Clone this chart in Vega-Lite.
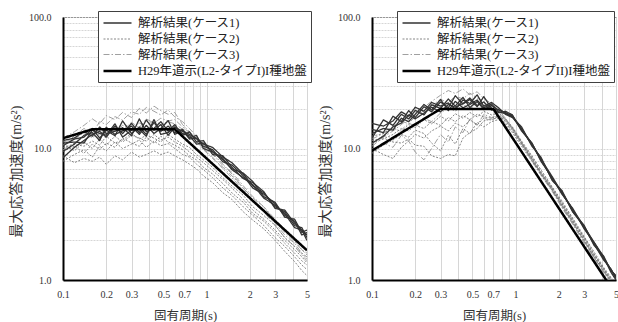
{
"$schema":"https://vega.github.io/schema/vega-lite/v6.json",
"padding":{"left":8,"top":10,"right":3,"bottom":2},
"spacing":65,
"bounds":"flush",
"config":{
 "font":"Liberation Serif, Noto Sans CJK JP",
 "view":{"stroke":"#595959","strokeWidth":1},
 "axis":{"labelFont":"Liberation Serif, Noto Sans CJK JP","titleFont":"Liberation Serif, Noto Sans CJK JP","labelFontSize":10,"labelColor":"#333","titleFontSize":13,"titleFontWeight":"normal","titleColor":"#333","ticks":false,"domainColor":"#000","domainWidth":2,"gridColor":"#d6d6d6","gridWidth":1,"labelOverlap":false,"labelFlush":false},
 "axisY":{"gridDash":[2,1]},
 "legend":{"fillColor":"#ffffff","strokeColor":"#404040","padding":4,"labelFont":"Liberation Serif, Noto Sans CJK JP","labelFontSize":12.5,"labelColor":"#222","symbolType":"M-1,0H3","symbolSize":196,"rowPadding":1.5,"labelOffset":19,"labelLimit":400}
},
"resolve":{"scale":{"color":"independent","strokeDash":"independent","strokeWidth":"independent"},"legend":{"color":"independent","strokeDash":"independent","strokeWidth":"independent"}},
"datasets":{
"L":[
{"c":3,"r":1,"T":0.1,"S":10.5},{"c":3,"r":1,"T":0.12,"S":12.5},{"c":3,"r":1,"T":0.14,"S":14.2},{"c":3,"r":1,"T":0.16,"S":13.0},{"c":3,"r":1,"T":0.18,"S":16.0},{"c":3,"r":1,"T":0.2,"S":15.2},{"c":3,"r":1,"T":0.23,"S":17.5},{"c":3,"r":1,"T":0.26,"S":16.4},{"c":3,"r":1,"T":0.3,"S":19.0},{"c":3,"r":1,"T":0.34,"S":18.2},{"c":3,"r":1,"T":0.38,"S":20.5},{"c":3,"r":1,"T":0.43,"S":19.2},{"c":3,"r":1,"T":0.48,"S":18.0},{"c":3,"r":1,"T":0.54,"S":19.6},{"c":3,"r":1,"T":0.6,"S":17.4},{"c":3,"r":1,"T":0.68,"S":16.0},{"c":3,"r":1,"T":0.76,"S":14.2},{"c":3,"r":1,"T":0.85,"S":12.4},{"c":3,"r":1,"T":0.95,"S":10.8},{"c":3,"r":1,"T":1.1,"S":9.2},{"c":3,"r":1,"T":1.3,"S":7.6},{"c":3,"r":1,"T":1.5,"S":6.4},{"c":3,"r":1,"T":1.8,"S":5.0},{"c":3,"r":1,"T":2.1,"S":4.0},{"c":3,"r":1,"T":2.5,"S":3.4},{"c":3,"r":1,"T":3,"S":2.7},{"c":3,"r":1,"T":3.5,"S":2.2},{"c":3,"r":1,"T":4.1,"S":1.9},{"c":3,"r":1,"T":4.6,"S":1.6},{"c":3,"r":1,"T":5,"S":1.5},
{"c":3,"r":2,"T":0.1,"S":12.0},{"c":3,"r":2,"T":0.12,"S":13.4},{"c":3,"r":2,"T":0.14,"S":15.0},{"c":3,"r":2,"T":0.16,"S":16.8},{"c":3,"r":2,"T":0.18,"S":15.4},{"c":3,"r":2,"T":0.2,"S":17.8},{"c":3,"r":2,"T":0.23,"S":16.6},{"c":3,"r":2,"T":0.26,"S":18.8},{"c":3,"r":2,"T":0.3,"S":17.2},{"c":3,"r":2,"T":0.34,"S":20.2},{"c":3,"r":2,"T":0.38,"S":18.6},{"c":3,"r":2,"T":0.43,"S":21.0},{"c":3,"r":2,"T":0.48,"S":19.4},{"c":3,"r":2,"T":0.54,"S":18.2},{"c":3,"r":2,"T":0.6,"S":18.8},{"c":3,"r":2,"T":0.68,"S":15.2},{"c":3,"r":2,"T":0.76,"S":13.4},{"c":3,"r":2,"T":0.85,"S":11.8},{"c":3,"r":2,"T":0.95,"S":10.0},{"c":3,"r":2,"T":1.1,"S":8.6},{"c":3,"r":2,"T":1.3,"S":7.0},{"c":3,"r":2,"T":1.5,"S":6.0},{"c":3,"r":2,"T":1.8,"S":4.8},{"c":3,"r":2,"T":2.1,"S":3.9},{"c":3,"r":2,"T":2.5,"S":3.3},{"c":3,"r":2,"T":3,"S":2.6},{"c":3,"r":2,"T":3.5,"S":2.1},{"c":3,"r":2,"T":4.1,"S":1.8},{"c":3,"r":2,"T":4.6,"S":1.55},{"c":3,"r":2,"T":5,"S":1.4},
{"c":3,"r":3,"T":0.1,"S":9.8},{"c":3,"r":3,"T":0.12,"S":11.0},{"c":3,"r":3,"T":0.14,"S":12.2},{"c":3,"r":3,"T":0.16,"S":13.8},{"c":3,"r":3,"T":0.18,"S":12.6},{"c":3,"r":3,"T":0.2,"S":14.4},{"c":3,"r":3,"T":0.23,"S":13.4},{"c":3,"r":3,"T":0.26,"S":15.0},{"c":3,"r":3,"T":0.3,"S":14.2},{"c":3,"r":3,"T":0.34,"S":15.6},{"c":3,"r":3,"T":0.38,"S":14.8},{"c":3,"r":3,"T":0.43,"S":16.4},{"c":3,"r":3,"T":0.48,"S":15.2},{"c":3,"r":3,"T":0.54,"S":16.0},{"c":3,"r":3,"T":0.6,"S":15.4},{"c":3,"r":3,"T":0.68,"S":14.0},{"c":3,"r":3,"T":0.76,"S":12.8},{"c":3,"r":3,"T":0.85,"S":11.4},{"c":3,"r":3,"T":0.95,"S":9.8},{"c":3,"r":3,"T":1.1,"S":8.4},{"c":3,"r":3,"T":1.3,"S":7.2},{"c":3,"r":3,"T":1.5,"S":6.2},{"c":3,"r":3,"T":1.8,"S":5.0},{"c":3,"r":3,"T":2.1,"S":4.2},{"c":3,"r":3,"T":2.5,"S":3.6},{"c":3,"r":3,"T":3,"S":2.9},{"c":3,"r":3,"T":3.5,"S":2.4},{"c":3,"r":3,"T":4.1,"S":2.0},{"c":3,"r":3,"T":4.6,"S":1.7},{"c":3,"r":3,"T":5,"S":1.55},
{"c":3,"r":4,"T":0.1,"S":11.2},{"c":3,"r":4,"T":0.12,"S":11.8},{"c":3,"r":4,"T":0.14,"S":13.2},{"c":3,"r":4,"T":0.16,"S":12.0},{"c":3,"r":4,"T":0.18,"S":13.6},{"c":3,"r":4,"T":0.2,"S":12.8},{"c":3,"r":4,"T":0.23,"S":14.6},{"c":3,"r":4,"T":0.26,"S":13.8},{"c":3,"r":4,"T":0.3,"S":15.8},{"c":3,"r":4,"T":0.34,"S":14.4},{"c":3,"r":4,"T":0.38,"S":16.8},{"c":3,"r":4,"T":0.43,"S":15.6},{"c":3,"r":4,"T":0.48,"S":17.0},{"c":3,"r":4,"T":0.54,"S":16.2},{"c":3,"r":4,"T":0.6,"S":16.6},{"c":3,"r":4,"T":0.68,"S":14.6},{"c":3,"r":4,"T":0.76,"S":13.2},{"c":3,"r":4,"T":0.85,"S":12.0},{"c":3,"r":4,"T":0.95,"S":10.4},{"c":3,"r":4,"T":1.1,"S":9.0},{"c":3,"r":4,"T":1.3,"S":7.4},{"c":3,"r":4,"T":1.5,"S":6.6},{"c":3,"r":4,"T":1.8,"S":5.2},{"c":3,"r":4,"T":2.1,"S":4.3},{"c":3,"r":4,"T":2.5,"S":3.6},{"c":3,"r":4,"T":3,"S":2.8},{"c":3,"r":4,"T":3.5,"S":2.3},{"c":3,"r":4,"T":4.1,"S":1.95},{"c":3,"r":4,"T":4.6,"S":1.7},{"c":3,"r":4,"T":5,"S":1.6},
{"c":2,"r":1,"T":0.1,"S":8.0},{"c":2,"r":1,"T":0.12,"S":9.0},{"c":2,"r":1,"T":0.14,"S":9.8},{"c":2,"r":1,"T":0.16,"S":8.6},{"c":2,"r":1,"T":0.18,"S":10.4},{"c":2,"r":1,"T":0.2,"S":9.6},{"c":2,"r":1,"T":0.23,"S":11.2},{"c":2,"r":1,"T":0.26,"S":10.0},{"c":2,"r":1,"T":0.3,"S":10.8},{"c":2,"r":1,"T":0.34,"S":11.6},{"c":2,"r":1,"T":0.38,"S":10.2},{"c":2,"r":1,"T":0.43,"S":11.4},{"c":2,"r":1,"T":0.48,"S":10.5},{"c":2,"r":1,"T":0.54,"S":10.9},{"c":2,"r":1,"T":0.6,"S":10.0},{"c":2,"r":1,"T":0.68,"S":9.0},{"c":2,"r":1,"T":0.76,"S":8.6},{"c":2,"r":1,"T":0.85,"S":7.6},{"c":2,"r":1,"T":0.95,"S":6.9},{"c":2,"r":1,"T":1.1,"S":6.0},{"c":2,"r":1,"T":1.3,"S":5.0},{"c":2,"r":1,"T":1.5,"S":4.4},{"c":2,"r":1,"T":1.8,"S":3.6},{"c":2,"r":1,"T":2.1,"S":3.1},{"c":2,"r":1,"T":2.5,"S":2.6},{"c":2,"r":1,"T":3,"S":2.1},{"c":2,"r":1,"T":3.5,"S":1.8},{"c":2,"r":1,"T":4.1,"S":1.5},{"c":2,"r":1,"T":4.6,"S":1.3},{"c":2,"r":1,"T":5,"S":1.2},
{"c":2,"r":2,"T":0.1,"S":9.5},{"c":2,"r":2,"T":0.12,"S":10.4},{"c":2,"r":2,"T":0.14,"S":9.2},{"c":2,"r":2,"T":0.16,"S":10.8},{"c":2,"r":2,"T":0.18,"S":9.8},{"c":2,"r":2,"T":0.2,"S":11.0},{"c":2,"r":2,"T":0.23,"S":10.2},{"c":2,"r":2,"T":0.26,"S":12.0},{"c":2,"r":2,"T":0.3,"S":11.0},{"c":2,"r":2,"T":0.34,"S":10.4},{"c":2,"r":2,"T":0.38,"S":12.2},{"c":2,"r":2,"T":0.43,"S":11.0},{"c":2,"r":2,"T":0.48,"S":12.4},{"c":2,"r":2,"T":0.54,"S":11.2},{"c":2,"r":2,"T":0.6,"S":10.6},{"c":2,"r":2,"T":0.68,"S":9.8},{"c":2,"r":2,"T":0.76,"S":8.8},{"c":2,"r":2,"T":0.85,"S":8.2},{"c":2,"r":2,"T":0.95,"S":7.2},{"c":2,"r":2,"T":1.1,"S":6.4},{"c":2,"r":2,"T":1.3,"S":5.4},{"c":2,"r":2,"T":1.5,"S":4.6},{"c":2,"r":2,"T":1.8,"S":3.9},{"c":2,"r":2,"T":2.1,"S":3.2},{"c":2,"r":2,"T":2.5,"S":2.8},{"c":2,"r":2,"T":3,"S":2.3},{"c":2,"r":2,"T":3.5,"S":1.9},{"c":2,"r":2,"T":4.1,"S":1.6},{"c":2,"r":2,"T":4.6,"S":1.4},{"c":2,"r":2,"T":5,"S":1.3},
{"c":2,"r":3,"T":0.1,"S":10.8},{"c":2,"r":3,"T":0.12,"S":9.6},{"c":2,"r":3,"T":0.14,"S":11.2},{"c":2,"r":3,"T":0.16,"S":10.0},{"c":2,"r":3,"T":0.18,"S":11.8},{"c":2,"r":3,"T":0.2,"S":10.6},{"c":2,"r":3,"T":0.23,"S":12.4},{"c":2,"r":3,"T":0.26,"S":11.2},{"c":2,"r":3,"T":0.3,"S":12.6},{"c":2,"r":3,"T":0.34,"S":12.0},{"c":2,"r":3,"T":0.38,"S":11.4},{"c":2,"r":3,"T":0.43,"S":12.8},{"c":2,"r":3,"T":0.48,"S":11.6},{"c":2,"r":3,"T":0.54,"S":12.2},{"c":2,"r":3,"T":0.6,"S":11.2},{"c":2,"r":3,"T":0.68,"S":10.4},{"c":2,"r":3,"T":0.76,"S":9.4},{"c":2,"r":3,"T":0.85,"S":8.6},{"c":2,"r":3,"T":0.95,"S":7.8},{"c":2,"r":3,"T":1.1,"S":6.8},{"c":2,"r":3,"T":1.3,"S":5.8},{"c":2,"r":3,"T":1.5,"S":5.0},{"c":2,"r":3,"T":1.8,"S":4.1},{"c":2,"r":3,"T":2.1,"S":3.4},{"c":2,"r":3,"T":2.5,"S":2.9},{"c":2,"r":3,"T":3,"S":2.4},{"c":2,"r":3,"T":3.5,"S":2.0},{"c":2,"r":3,"T":4.1,"S":1.7},{"c":2,"r":3,"T":4.6,"S":1.5},{"c":2,"r":3,"T":5,"S":1.35},
{"c":2,"r":4,"T":0.1,"S":8.8},{"c":2,"r":4,"T":0.12,"S":7.8},{"c":2,"r":4,"T":0.14,"S":8.4},{"c":2,"r":4,"T":0.16,"S":8.0},{"c":2,"r":4,"T":0.18,"S":8.6},{"c":2,"r":4,"T":0.2,"S":7.6},{"c":2,"r":4,"T":0.23,"S":8.8},{"c":2,"r":4,"T":0.26,"S":8.2},{"c":2,"r":4,"T":0.3,"S":9.4},{"c":2,"r":4,"T":0.34,"S":8.6},{"c":2,"r":4,"T":0.38,"S":9.0},{"c":2,"r":4,"T":0.43,"S":9.6},{"c":2,"r":4,"T":0.48,"S":9.0},{"c":2,"r":4,"T":0.54,"S":9.4},{"c":2,"r":4,"T":0.6,"S":8.8},{"c":2,"r":4,"T":0.68,"S":8.2},{"c":2,"r":4,"T":0.76,"S":7.6},{"c":2,"r":4,"T":0.85,"S":7.0},{"c":2,"r":4,"T":0.95,"S":6.2},{"c":2,"r":4,"T":1.1,"S":5.5},{"c":2,"r":4,"T":1.3,"S":4.6},{"c":2,"r":4,"T":1.5,"S":4.1},{"c":2,"r":4,"T":1.8,"S":3.3},{"c":2,"r":4,"T":2.1,"S":2.85},{"c":2,"r":4,"T":2.5,"S":2.45},{"c":2,"r":4,"T":3,"S":2.0},{"c":2,"r":4,"T":3.5,"S":1.65},{"c":2,"r":4,"T":4.1,"S":1.38},{"c":2,"r":4,"T":4.6,"S":1.18},{"c":2,"r":4,"T":5,"S":1.08},
{"c":2,"r":5,"T":0.1,"S":10.2},{"c":2,"r":5,"T":0.12,"S":10.8},{"c":2,"r":5,"T":0.14,"S":10.4},{"c":2,"r":5,"T":0.16,"S":11.4},{"c":2,"r":5,"T":0.18,"S":10.6},{"c":2,"r":5,"T":0.2,"S":12.4},{"c":2,"r":5,"T":0.23,"S":11.0},{"c":2,"r":5,"T":0.26,"S":11.6},{"c":2,"r":5,"T":0.3,"S":13.0},{"c":2,"r":5,"T":0.34,"S":11.8},{"c":2,"r":5,"T":0.38,"S":12.6},{"c":2,"r":5,"T":0.43,"S":12.0},{"c":2,"r":5,"T":0.48,"S":11.2},{"c":2,"r":5,"T":0.54,"S":12.8},{"c":2,"r":5,"T":0.6,"S":11.8},{"c":2,"r":5,"T":0.68,"S":10.8},{"c":2,"r":5,"T":0.76,"S":10.2},{"c":2,"r":5,"T":0.85,"S":9.0},{"c":2,"r":5,"T":0.95,"S":8.2},{"c":2,"r":5,"T":1.1,"S":7.2},{"c":2,"r":5,"T":1.3,"S":6.0},{"c":2,"r":5,"T":1.5,"S":5.2},{"c":2,"r":5,"T":1.8,"S":4.4},{"c":2,"r":5,"T":2.1,"S":3.6},{"c":2,"r":5,"T":2.5,"S":3.1},{"c":2,"r":5,"T":3,"S":2.6},{"c":2,"r":5,"T":3.5,"S":2.1},{"c":2,"r":5,"T":4.1,"S":1.8},{"c":2,"r":5,"T":4.6,"S":1.6},{"c":2,"r":5,"T":5,"S":1.45},
{"c":1,"r":1,"T":0.1,"S":8.5},{"c":1,"r":1,"T":0.12,"S":10.2},{"c":1,"r":1,"T":0.14,"S":11.5},{"c":1,"r":1,"T":0.16,"S":12.8},{"c":1,"r":1,"T":0.18,"S":13.5},{"c":1,"r":1,"T":0.2,"S":12.2},{"c":1,"r":1,"T":0.23,"S":14.8},{"c":1,"r":1,"T":0.26,"S":13.0},{"c":1,"r":1,"T":0.3,"S":15.5},{"c":1,"r":1,"T":0.34,"S":13.2},{"c":1,"r":1,"T":0.38,"S":16.5},{"c":1,"r":1,"T":0.43,"S":13.8},{"c":1,"r":1,"T":0.48,"S":15.2},{"c":1,"r":1,"T":0.54,"S":12.6},{"c":1,"r":1,"T":0.6,"S":14.5},{"c":1,"r":1,"T":0.68,"S":13.5},{"c":1,"r":1,"T":0.76,"S":12.8},{"c":1,"r":1,"T":0.85,"S":11.9},{"c":1,"r":1,"T":0.95,"S":10.8},{"c":1,"r":1,"T":1.1,"S":10.2},{"c":1,"r":1,"T":1.3,"S":8.6},{"c":1,"r":1,"T":1.5,"S":7.8},{"c":1,"r":1,"T":1.8,"S":6.4},{"c":1,"r":1,"T":2.1,"S":5.2},{"c":1,"r":1,"T":2.5,"S":4.6},{"c":1,"r":1,"T":3,"S":3.6},{"c":1,"r":1,"T":3.5,"S":3.3},{"c":1,"r":1,"T":4.1,"S":2.6},{"c":1,"r":1,"T":4.6,"S":2.5},{"c":1,"r":1,"T":5,"S":2.1},
{"c":1,"r":2,"T":0.1,"S":10.5},{"c":1,"r":2,"T":0.12,"S":11.8},{"c":1,"r":2,"T":0.14,"S":12.2},{"c":1,"r":2,"T":0.16,"S":14.2},{"c":1,"r":2,"T":0.18,"S":12.0},{"c":1,"r":2,"T":0.2,"S":13.8},{"c":1,"r":2,"T":0.23,"S":12.5},{"c":1,"r":2,"T":0.26,"S":16.2},{"c":1,"r":2,"T":0.3,"S":13.0},{"c":1,"r":2,"T":0.34,"S":14.6},{"c":1,"r":2,"T":0.38,"S":12.8},{"c":1,"r":2,"T":0.43,"S":15.8},{"c":1,"r":2,"T":0.48,"S":13.5},{"c":1,"r":2,"T":0.54,"S":14.8},{"c":1,"r":2,"T":0.6,"S":13.2},{"c":1,"r":2,"T":0.68,"S":14.0},{"c":1,"r":2,"T":0.76,"S":12.0},{"c":1,"r":2,"T":0.85,"S":12.6},{"c":1,"r":2,"T":0.95,"S":10.0},{"c":1,"r":2,"T":1.1,"S":9.4},{"c":1,"r":2,"T":1.3,"S":8.2},{"c":1,"r":2,"T":1.5,"S":7.0},{"c":1,"r":2,"T":1.8,"S":6.5},{"c":1,"r":2,"T":2.1,"S":5.6},{"c":1,"r":2,"T":2.5,"S":4.3},{"c":1,"r":2,"T":3,"S":3.9},{"c":1,"r":2,"T":3.5,"S":3.0},{"c":1,"r":2,"T":4.1,"S":2.9},{"c":1,"r":2,"T":4.6,"S":2.3},{"c":1,"r":2,"T":5,"S":2.4},
{"c":1,"r":3,"T":0.1,"S":11.5},{"c":1,"r":3,"T":0.12,"S":12.0},{"c":1,"r":3,"T":0.14,"S":13.5},{"c":1,"r":3,"T":0.16,"S":12.4},{"c":1,"r":3,"T":0.18,"S":14.6},{"c":1,"r":3,"T":0.2,"S":13.0},{"c":1,"r":3,"T":0.23,"S":13.5},{"c":1,"r":3,"T":0.26,"S":14.4},{"c":1,"r":3,"T":0.3,"S":12.5},{"c":1,"r":3,"T":0.34,"S":16.8},{"c":1,"r":3,"T":0.38,"S":13.4},{"c":1,"r":3,"T":0.43,"S":14.2},{"c":1,"r":3,"T":0.48,"S":16.0},{"c":1,"r":3,"T":0.54,"S":13.5},{"c":1,"r":3,"T":0.6,"S":15.2},{"c":1,"r":3,"T":0.68,"S":12.6},{"c":1,"r":3,"T":0.76,"S":13.4},{"c":1,"r":3,"T":0.85,"S":11.2},{"c":1,"r":3,"T":0.95,"S":11.5},{"c":1,"r":3,"T":1.1,"S":9.0},{"c":1,"r":3,"T":1.3,"S":8.8},{"c":1,"r":3,"T":1.5,"S":7.2},{"c":1,"r":3,"T":1.8,"S":5.9},{"c":1,"r":3,"T":2.1,"S":5.5},{"c":1,"r":3,"T":2.5,"S":4.7},{"c":1,"r":3,"T":3,"S":3.5},{"c":1,"r":3,"T":3.5,"S":3.4},{"c":1,"r":3,"T":4.1,"S":2.7},{"c":1,"r":3,"T":4.6,"S":2.4},{"c":1,"r":3,"T":5,"S":2.2},
{"c":1,"r":4,"T":0.1,"S":9.5},{"c":1,"r":4,"T":0.12,"S":10.8},{"c":1,"r":4,"T":0.14,"S":12.6},{"c":1,"r":4,"T":0.16,"S":13.2},{"c":1,"r":4,"T":0.18,"S":11.5},{"c":1,"r":4,"T":0.2,"S":14.5},{"c":1,"r":4,"T":0.23,"S":12.8},{"c":1,"r":4,"T":0.26,"S":13.6},{"c":1,"r":4,"T":0.3,"S":14.8},{"c":1,"r":4,"T":0.34,"S":12.8},{"c":1,"r":4,"T":0.38,"S":15.0},{"c":1,"r":4,"T":0.43,"S":13.0},{"c":1,"r":4,"T":0.48,"S":14.2},{"c":1,"r":4,"T":0.54,"S":16.3},{"c":1,"r":4,"T":0.6,"S":12.8},{"c":1,"r":4,"T":0.68,"S":13.8},{"c":1,"r":4,"T":0.76,"S":11.8},{"c":1,"r":4,"T":0.85,"S":12.0},{"c":1,"r":4,"T":0.95,"S":10.4},{"c":1,"r":4,"T":1.1,"S":9.8},{"c":1,"r":4,"T":1.3,"S":7.9},{"c":1,"r":4,"T":1.5,"S":7.5},{"c":1,"r":4,"T":1.8,"S":6.2},{"c":1,"r":4,"T":2.1,"S":5.0},{"c":1,"r":4,"T":2.5,"S":4.5},{"c":1,"r":4,"T":3,"S":3.8},{"c":1,"r":4,"T":3.5,"S":3.1},{"c":1,"r":4,"T":4.1,"S":2.8},{"c":1,"r":4,"T":4.6,"S":2.2},{"c":1,"r":4,"T":5,"S":2.3},
{"c":1,"r":5,"T":0.1,"S":11.0},{"c":1,"r":5,"T":0.12,"S":11.2},{"c":1,"r":5,"T":0.14,"S":11.0},{"c":1,"r":5,"T":0.16,"S":13.8},{"c":1,"r":5,"T":0.18,"S":13.0},{"c":1,"r":5,"T":0.2,"S":12.6},{"c":1,"r":5,"T":0.23,"S":15.4},{"c":1,"r":5,"T":0.26,"S":12.2},{"c":1,"r":5,"T":0.3,"S":13.8},{"c":1,"r":5,"T":0.34,"S":14.0},{"c":1,"r":5,"T":0.38,"S":12.4},{"c":1,"r":5,"T":0.43,"S":16.6},{"c":1,"r":5,"T":0.48,"S":12.8},{"c":1,"r":5,"T":0.54,"S":13.2},{"c":1,"r":5,"T":0.6,"S":14.6},{"c":1,"r":5,"T":0.68,"S":13.0},{"c":1,"r":5,"T":0.76,"S":12.5},{"c":1,"r":5,"T":0.85,"S":10.8},{"c":1,"r":5,"T":0.95,"S":11.0},{"c":1,"r":5,"T":1.1,"S":9.5},{"c":1,"r":5,"T":1.3,"S":8.4},{"c":1,"r":5,"T":1.5,"S":6.9},{"c":1,"r":5,"T":1.8,"S":6.0},{"c":1,"r":5,"T":2.1,"S":5.3},{"c":1,"r":5,"T":2.5,"S":4.2},{"c":1,"r":5,"T":3,"S":3.7},{"c":1,"r":5,"T":3.5,"S":3.2},{"c":1,"r":5,"T":4.1,"S":2.5},{"c":1,"r":5,"T":4.6,"S":2.4},{"c":1,"r":5,"T":5,"S":2.0},
{"c":4,"r":0,"T":0.1,"S":11.97},{"c":4,"r":0,"T":0.16,"S":14.0},{"c":4,"r":0,"T":0.6,"S":14.0},{"c":4,"r":0,"T":5,"S":1.68}
],
"R":[
{"c":3,"r":1,"T":0.1,"S":10.4},{"c":3,"r":1,"T":0.12,"S":12.2},{"c":3,"r":1,"T":0.14,"S":13.6},{"c":3,"r":1,"T":0.16,"S":15.2},{"c":3,"r":1,"T":0.18,"S":16.8},{"c":3,"r":1,"T":0.2,"S":18.4},{"c":3,"r":1,"T":0.23,"S":20.6},{"c":3,"r":1,"T":0.26,"S":22.8},{"c":3,"r":1,"T":0.3,"S":25.4},{"c":3,"r":1,"T":0.34,"S":27.6},{"c":3,"r":1,"T":0.38,"S":26.2},{"c":3,"r":1,"T":0.43,"S":28.4},{"c":3,"r":1,"T":0.48,"S":25.6},{"c":3,"r":1,"T":0.54,"S":27.0},{"c":3,"r":1,"T":0.6,"S":24.0},{"c":3,"r":1,"T":0.68,"S":22.0},{"c":3,"r":1,"T":0.76,"S":19.6},{"c":3,"r":1,"T":0.85,"S":17.0},{"c":3,"r":1,"T":0.95,"S":14.2},{"c":3,"r":1,"T":1.1,"S":11.0},{"c":3,"r":1,"T":1.3,"S":8.2},{"c":3,"r":1,"T":1.5,"S":6.4},{"c":3,"r":1,"T":1.8,"S":4.8},{"c":3,"r":1,"T":2.1,"S":3.6},{"c":3,"r":1,"T":2.5,"S":2.7},{"c":3,"r":1,"T":3,"S":1.95},{"c":3,"r":1,"T":3.5,"S":1.5},{"c":3,"r":1,"T":4.1,"S":1.15},{"c":3,"r":1,"T":4.6,"S":0.97},{"c":3,"r":1,"T":5,"S":0.87},
{"c":3,"r":2,"T":0.1,"S":9.6},{"c":3,"r":2,"T":0.12,"S":11.0},{"c":3,"r":2,"T":0.14,"S":10.2},{"c":3,"r":2,"T":0.16,"S":12.6},{"c":3,"r":2,"T":0.18,"S":11.4},{"c":3,"r":2,"T":0.2,"S":9.4},{"c":3,"r":2,"T":0.23,"S":8.2},{"c":3,"r":2,"T":0.26,"S":10.0},{"c":3,"r":2,"T":0.3,"S":12.8},{"c":3,"r":2,"T":0.34,"S":11.2},{"c":3,"r":2,"T":0.38,"S":14.6},{"c":3,"r":2,"T":0.43,"S":13.2},{"c":3,"r":2,"T":0.48,"S":16.8},{"c":3,"r":2,"T":0.54,"S":15.0},{"c":3,"r":2,"T":0.6,"S":18.2},{"c":3,"r":2,"T":0.68,"S":17.2},{"c":3,"r":2,"T":0.76,"S":18.0},{"c":3,"r":2,"T":0.85,"S":16.4},{"c":3,"r":2,"T":0.95,"S":14.0},{"c":3,"r":2,"T":1.1,"S":10.8},{"c":3,"r":2,"T":1.3,"S":8.0},{"c":3,"r":2,"T":1.5,"S":6.3},{"c":3,"r":2,"T":1.8,"S":4.7},{"c":3,"r":2,"T":2.1,"S":3.55},{"c":3,"r":2,"T":2.5,"S":2.65},{"c":3,"r":2,"T":3,"S":1.9},{"c":3,"r":2,"T":3.5,"S":1.45},{"c":3,"r":2,"T":4.1,"S":1.12},{"c":3,"r":2,"T":4.6,"S":0.95},{"c":3,"r":2,"T":5,"S":0.85},
{"c":3,"r":3,"T":0.1,"S":11.8},{"c":3,"r":3,"T":0.12,"S":13.0},{"c":3,"r":3,"T":0.14,"S":14.8},{"c":3,"r":3,"T":0.16,"S":16.2},{"c":3,"r":3,"T":0.18,"S":15.4},{"c":3,"r":3,"T":0.2,"S":17.6},{"c":3,"r":3,"T":0.23,"S":19.4},{"c":3,"r":3,"T":0.26,"S":21.2},{"c":3,"r":3,"T":0.3,"S":23.6},{"c":3,"r":3,"T":0.34,"S":22.4},{"c":3,"r":3,"T":0.38,"S":25.0},{"c":3,"r":3,"T":0.43,"S":23.8},{"c":3,"r":3,"T":0.48,"S":26.4},{"c":3,"r":3,"T":0.54,"S":24.2},{"c":3,"r":3,"T":0.6,"S":22.6},{"c":3,"r":3,"T":0.68,"S":20.4},{"c":3,"r":3,"T":0.76,"S":19.0},{"c":3,"r":3,"T":0.85,"S":16.6},{"c":3,"r":3,"T":0.95,"S":14.4},{"c":3,"r":3,"T":1.1,"S":11.2},{"c":3,"r":3,"T":1.3,"S":8.4},{"c":3,"r":3,"T":1.5,"S":6.5},{"c":3,"r":3,"T":1.8,"S":4.9},{"c":3,"r":3,"T":2.1,"S":3.7},{"c":3,"r":3,"T":2.5,"S":2.75},{"c":3,"r":3,"T":3,"S":2.0},{"c":3,"r":3,"T":3.5,"S":1.52},{"c":3,"r":3,"T":4.1,"S":1.17},{"c":3,"r":3,"T":4.6,"S":0.99},{"c":3,"r":3,"T":5,"S":0.89},
{"c":3,"r":4,"T":0.1,"S":10.8},{"c":3,"r":4,"T":0.12,"S":12.6},{"c":3,"r":4,"T":0.14,"S":12.0},{"c":3,"r":4,"T":0.16,"S":13.8},{"c":3,"r":4,"T":0.18,"S":15.6},{"c":3,"r":4,"T":0.2,"S":14.8},{"c":3,"r":4,"T":0.23,"S":17.0},{"c":3,"r":4,"T":0.26,"S":16.0},{"c":3,"r":4,"T":0.3,"S":18.6},{"c":3,"r":4,"T":0.34,"S":20.4},{"c":3,"r":4,"T":0.38,"S":19.2},{"c":3,"r":4,"T":0.43,"S":21.6},{"c":3,"r":4,"T":0.48,"S":20.0},{"c":3,"r":4,"T":0.54,"S":22.4},{"c":3,"r":4,"T":0.6,"S":21.0},{"c":3,"r":4,"T":0.68,"S":19.8},{"c":3,"r":4,"T":0.76,"S":18.4},{"c":3,"r":4,"T":0.85,"S":16.8},{"c":3,"r":4,"T":0.95,"S":14.2},{"c":3,"r":4,"T":1.1,"S":10.9},{"c":3,"r":4,"T":1.3,"S":8.3},{"c":3,"r":4,"T":1.5,"S":6.4},{"c":3,"r":4,"T":1.8,"S":4.85},{"c":3,"r":4,"T":2.1,"S":3.65},{"c":3,"r":4,"T":2.5,"S":2.7},{"c":3,"r":4,"T":3,"S":1.98},{"c":3,"r":4,"T":3.5,"S":1.5},{"c":3,"r":4,"T":4.1,"S":1.16},{"c":3,"r":4,"T":4.6,"S":0.98},{"c":3,"r":4,"T":5,"S":0.88},
{"c":2,"r":1,"T":0.1,"S":11.5},{"c":2,"r":1,"T":0.12,"S":12.0},{"c":2,"r":1,"T":0.14,"S":11.2},{"c":2,"r":1,"T":0.16,"S":11.0},{"c":2,"r":1,"T":0.18,"S":11.8},{"c":2,"r":1,"T":0.2,"S":10.6},{"c":2,"r":1,"T":0.23,"S":10.4},{"c":2,"r":1,"T":0.26,"S":8.8},{"c":2,"r":1,"T":0.3,"S":8.4},{"c":2,"r":1,"T":0.34,"S":9.0},{"c":2,"r":1,"T":0.38,"S":8.8},{"c":2,"r":1,"T":0.43,"S":12.0},{"c":2,"r":1,"T":0.48,"S":13.2},{"c":2,"r":1,"T":0.54,"S":14.2},{"c":2,"r":1,"T":0.6,"S":16.2},{"c":2,"r":1,"T":0.68,"S":16.8},{"c":2,"r":1,"T":0.76,"S":17.0},{"c":2,"r":1,"T":0.85,"S":15.6},{"c":2,"r":1,"T":0.95,"S":13.6},{"c":2,"r":1,"T":1.1,"S":10.8},{"c":2,"r":1,"T":1.3,"S":8.2},{"c":2,"r":1,"T":1.5,"S":6.5},{"c":2,"r":1,"T":1.8,"S":4.9},{"c":2,"r":1,"T":2.1,"S":3.8},{"c":2,"r":1,"T":2.5,"S":2.8},{"c":2,"r":1,"T":3,"S":2.05},{"c":2,"r":1,"T":3.5,"S":1.55},{"c":2,"r":1,"T":4.1,"S":1.2},{"c":2,"r":1,"T":4.6,"S":1.0},{"c":2,"r":1,"T":5,"S":0.9},
{"c":2,"r":2,"T":0.1,"S":10.0},{"c":2,"r":2,"T":0.12,"S":9.0},{"c":2,"r":2,"T":0.14,"S":8.4},{"c":2,"r":2,"T":0.16,"S":10.2},{"c":2,"r":2,"T":0.18,"S":11.4},{"c":2,"r":2,"T":0.2,"S":12.8},{"c":2,"r":2,"T":0.23,"S":12.0},{"c":2,"r":2,"T":0.26,"S":13.6},{"c":2,"r":2,"T":0.3,"S":14.8},{"c":2,"r":2,"T":0.34,"S":13.6},{"c":2,"r":2,"T":0.38,"S":15.6},{"c":2,"r":2,"T":0.43,"S":14.6},{"c":2,"r":2,"T":0.48,"S":16.4},{"c":2,"r":2,"T":0.54,"S":15.2},{"c":2,"r":2,"T":0.6,"S":17.0},{"c":2,"r":2,"T":0.68,"S":16.4},{"c":2,"r":2,"T":0.76,"S":17.6},{"c":2,"r":2,"T":0.85,"S":16.0},{"c":2,"r":2,"T":0.95,"S":14.0},{"c":2,"r":2,"T":1.1,"S":11.0},{"c":2,"r":2,"T":1.3,"S":8.4},{"c":2,"r":2,"T":1.5,"S":6.6},{"c":2,"r":2,"T":1.8,"S":5.0},{"c":2,"r":2,"T":2.1,"S":3.8},{"c":2,"r":2,"T":2.5,"S":2.9},{"c":2,"r":2,"T":3,"S":2.1},{"c":2,"r":2,"T":3.5,"S":1.6},{"c":2,"r":2,"T":4.1,"S":1.22},{"c":2,"r":2,"T":4.6,"S":1.02},{"c":2,"r":2,"T":5,"S":0.92},
{"c":2,"r":3,"T":0.1,"S":12.4},{"c":2,"r":3,"T":0.12,"S":13.0},{"c":2,"r":3,"T":0.14,"S":14.4},{"c":2,"r":3,"T":0.16,"S":13.4},{"c":2,"r":3,"T":0.18,"S":15.2},{"c":2,"r":3,"T":0.2,"S":14.4},{"c":2,"r":3,"T":0.23,"S":16.6},{"c":2,"r":3,"T":0.26,"S":15.4},{"c":2,"r":3,"T":0.3,"S":17.6},{"c":2,"r":3,"T":0.34,"S":16.2},{"c":2,"r":3,"T":0.38,"S":18.4},{"c":2,"r":3,"T":0.43,"S":17.0},{"c":2,"r":3,"T":0.48,"S":18.8},{"c":2,"r":3,"T":0.54,"S":17.4},{"c":2,"r":3,"T":0.6,"S":19.2},{"c":2,"r":3,"T":0.68,"S":18.0},{"c":2,"r":3,"T":0.76,"S":18.6},{"c":2,"r":3,"T":0.85,"S":16.8},{"c":2,"r":3,"T":0.95,"S":14.6},{"c":2,"r":3,"T":1.1,"S":11.4},{"c":2,"r":3,"T":1.3,"S":8.8},{"c":2,"r":3,"T":1.5,"S":6.9},{"c":2,"r":3,"T":1.8,"S":5.1},{"c":2,"r":3,"T":2.1,"S":4.0},{"c":2,"r":3,"T":2.5,"S":2.95},{"c":2,"r":3,"T":3,"S":2.15},{"c":2,"r":3,"T":3.5,"S":1.65},{"c":2,"r":3,"T":4.1,"S":1.25},{"c":2,"r":3,"T":4.6,"S":1.05},{"c":2,"r":3,"T":5,"S":0.95},
{"c":2,"r":4,"T":0.1,"S":9.2},{"c":2,"r":4,"T":0.12,"S":10.6},{"c":2,"r":4,"T":0.14,"S":11.6},{"c":2,"r":4,"T":0.16,"S":12.8},{"c":2,"r":4,"T":0.18,"S":12.2},{"c":2,"r":4,"T":0.2,"S":13.8},{"c":2,"r":4,"T":0.23,"S":13.0},{"c":2,"r":4,"T":0.26,"S":11.0},{"c":2,"r":4,"T":0.3,"S":9.6},{"c":2,"r":4,"T":0.34,"S":12.6},{"c":2,"r":4,"T":0.38,"S":10.8},{"c":2,"r":4,"T":0.43,"S":14.2},{"c":2,"r":4,"T":0.48,"S":13.0},{"c":2,"r":4,"T":0.54,"S":15.8},{"c":2,"r":4,"T":0.6,"S":14.6},{"c":2,"r":4,"T":0.68,"S":16.0},{"c":2,"r":4,"T":0.76,"S":16.6},{"c":2,"r":4,"T":0.85,"S":15.2},{"c":2,"r":4,"T":0.95,"S":13.2},{"c":2,"r":4,"T":1.1,"S":10.4},{"c":2,"r":4,"T":1.3,"S":8.0},{"c":2,"r":4,"T":1.5,"S":6.3},{"c":2,"r":4,"T":1.8,"S":4.8},{"c":2,"r":4,"T":2.1,"S":3.7},{"c":2,"r":4,"T":2.5,"S":2.75},{"c":2,"r":4,"T":3,"S":2.0},{"c":2,"r":4,"T":3.5,"S":1.5},{"c":2,"r":4,"T":4.1,"S":1.18},{"c":2,"r":4,"T":4.6,"S":0.98},{"c":2,"r":4,"T":5,"S":0.88},
{"c":2,"r":5,"T":0.1,"S":11.0},{"c":2,"r":5,"T":0.12,"S":11.8},{"c":2,"r":5,"T":0.14,"S":12.8},{"c":2,"r":5,"T":0.16,"S":14.2},{"c":2,"r":5,"T":0.18,"S":13.6},{"c":2,"r":5,"T":0.2,"S":15.0},{"c":2,"r":5,"T":0.23,"S":14.2},{"c":2,"r":5,"T":0.26,"S":16.0},{"c":2,"r":5,"T":0.3,"S":15.0},{"c":2,"r":5,"T":0.34,"S":17.2},{"c":2,"r":5,"T":0.38,"S":16.0},{"c":2,"r":5,"T":0.43,"S":17.8},{"c":2,"r":5,"T":0.48,"S":16.6},{"c":2,"r":5,"T":0.54,"S":18.2},{"c":2,"r":5,"T":0.6,"S":17.4},{"c":2,"r":5,"T":0.68,"S":17.0},{"c":2,"r":5,"T":0.76,"S":17.8},{"c":2,"r":5,"T":0.85,"S":16.2},{"c":2,"r":5,"T":0.95,"S":14.4},{"c":2,"r":5,"T":1.1,"S":11.2},{"c":2,"r":5,"T":1.3,"S":8.6},{"c":2,"r":5,"T":1.5,"S":6.7},{"c":2,"r":5,"T":1.8,"S":5.0},{"c":2,"r":5,"T":2.1,"S":3.9},{"c":2,"r":5,"T":2.5,"S":2.85},{"c":2,"r":5,"T":3,"S":2.1},{"c":2,"r":5,"T":3.5,"S":1.58},{"c":2,"r":5,"T":4.1,"S":1.22},{"c":2,"r":5,"T":4.6,"S":1.03},{"c":2,"r":5,"T":5,"S":0.93},
{"c":1,"r":1,"T":0.1,"S":12.0},{"c":1,"r":1,"T":0.12,"S":16.5},{"c":1,"r":1,"T":0.14,"S":15.0},{"c":1,"r":1,"T":0.16,"S":18.2},{"c":1,"r":1,"T":0.18,"S":16.8},{"c":1,"r":1,"T":0.2,"S":19.5},{"c":1,"r":1,"T":0.23,"S":18.0},{"c":1,"r":1,"T":0.26,"S":21.5},{"c":1,"r":1,"T":0.3,"S":20.2},{"c":1,"r":1,"T":0.34,"S":23.8},{"c":1,"r":1,"T":0.38,"S":21.0},{"c":1,"r":1,"T":0.43,"S":24.5},{"c":1,"r":1,"T":0.48,"S":20.5},{"c":1,"r":1,"T":0.54,"S":22.8},{"c":1,"r":1,"T":0.6,"S":19.8},{"c":1,"r":1,"T":0.68,"S":21.2},{"c":1,"r":1,"T":0.76,"S":19.6},{"c":1,"r":1,"T":0.85,"S":18.8},{"c":1,"r":1,"T":0.95,"S":17.6},{"c":1,"r":1,"T":1.1,"S":14.2},{"c":1,"r":1,"T":1.3,"S":10.6},{"c":1,"r":1,"T":1.5,"S":8.4},{"c":1,"r":1,"T":1.8,"S":5.8},{"c":1,"r":1,"T":2.1,"S":4.7},{"c":1,"r":1,"T":2.5,"S":3.3},{"c":1,"r":1,"T":3,"S":2.55},{"c":1,"r":1,"T":3.5,"S":1.9},{"c":1,"r":1,"T":4.1,"S":1.45},{"c":1,"r":1,"T":4.6,"S":1.2},{"c":1,"r":1,"T":5,"S":1.05},
{"c":1,"r":2,"T":0.1,"S":14.0},{"c":1,"r":2,"T":0.12,"S":13.2},{"c":1,"r":2,"T":0.14,"S":17.6},{"c":1,"r":2,"T":0.16,"S":16.0},{"c":1,"r":2,"T":0.18,"S":19.4},{"c":1,"r":2,"T":0.2,"S":17.2},{"c":1,"r":2,"T":0.23,"S":20.8},{"c":1,"r":2,"T":0.26,"S":19.0},{"c":1,"r":2,"T":0.3,"S":22.6},{"c":1,"r":2,"T":0.34,"S":20.4},{"c":1,"r":2,"T":0.38,"S":25.2},{"c":1,"r":2,"T":0.43,"S":21.8},{"c":1,"r":2,"T":0.48,"S":23.6},{"c":1,"r":2,"T":0.54,"S":20.8},{"c":1,"r":2,"T":0.6,"S":24.8},{"c":1,"r":2,"T":0.68,"S":20.2},{"c":1,"r":2,"T":0.76,"S":18.8},{"c":1,"r":2,"T":0.85,"S":19.2},{"c":1,"r":2,"T":0.95,"S":18.0},{"c":1,"r":2,"T":1.1,"S":13.6},{"c":1,"r":2,"T":1.3,"S":11.0},{"c":1,"r":2,"T":1.5,"S":8.0},{"c":1,"r":2,"T":1.8,"S":6.0},{"c":1,"r":2,"T":2.1,"S":4.5},{"c":1,"r":2,"T":2.5,"S":3.5},{"c":1,"r":2,"T":3,"S":2.45},{"c":1,"r":2,"T":3.5,"S":1.95},{"c":1,"r":2,"T":4.1,"S":1.5},{"c":1,"r":2,"T":4.6,"S":1.15},{"c":1,"r":2,"T":5,"S":1.0},
{"c":1,"r":3,"T":0.1,"S":15.5},{"c":1,"r":3,"T":0.12,"S":14.8},{"c":1,"r":3,"T":0.14,"S":16.2},{"c":1,"r":3,"T":0.16,"S":19.0},{"c":1,"r":3,"T":0.18,"S":17.6},{"c":1,"r":3,"T":0.2,"S":20.6},{"c":1,"r":3,"T":0.23,"S":19.2},{"c":1,"r":3,"T":0.26,"S":22.4},{"c":1,"r":3,"T":0.3,"S":21.0},{"c":1,"r":3,"T":0.34,"S":22.2},{"c":1,"r":3,"T":0.38,"S":19.8},{"c":1,"r":3,"T":0.43,"S":23.4},{"c":1,"r":3,"T":0.48,"S":22.0},{"c":1,"r":3,"T":0.54,"S":25.6},{"c":1,"r":3,"T":0.6,"S":21.0},{"c":1,"r":3,"T":0.68,"S":22.4},{"c":1,"r":3,"T":0.76,"S":20.4},{"c":1,"r":3,"T":0.85,"S":18.2},{"c":1,"r":3,"T":0.95,"S":17.2},{"c":1,"r":3,"T":1.1,"S":14.6},{"c":1,"r":3,"T":1.3,"S":10.4},{"c":1,"r":3,"T":1.5,"S":8.6},{"c":1,"r":3,"T":1.8,"S":5.7},{"c":1,"r":3,"T":2.1,"S":4.8},{"c":1,"r":3,"T":2.5,"S":3.3},{"c":1,"r":3,"T":3,"S":2.6},{"c":1,"r":3,"T":3.5,"S":1.85},{"c":1,"r":3,"T":4.1,"S":1.52},{"c":1,"r":3,"T":4.6,"S":1.18},{"c":1,"r":3,"T":5,"S":1.08},
{"c":1,"r":4,"T":0.1,"S":11.0},{"c":1,"r":4,"T":0.12,"S":12.4},{"c":1,"r":4,"T":0.14,"S":14.6},{"c":1,"r":4,"T":0.16,"S":15.6},{"c":1,"r":4,"T":0.18,"S":18.0},{"c":1,"r":4,"T":0.2,"S":16.8},{"c":1,"r":4,"T":0.23,"S":18.6},{"c":1,"r":4,"T":0.26,"S":20.6},{"c":1,"r":4,"T":0.3,"S":19.0},{"c":1,"r":4,"T":0.34,"S":21.6},{"c":1,"r":4,"T":0.38,"S":20.6},{"c":1,"r":4,"T":0.43,"S":22.0},{"c":1,"r":4,"T":0.48,"S":24.2},{"c":1,"r":4,"T":0.54,"S":21.2},{"c":1,"r":4,"T":0.6,"S":22.6},{"c":1,"r":4,"T":0.68,"S":19.6},{"c":1,"r":4,"T":0.76,"S":19.8},{"c":1,"r":4,"T":0.85,"S":18.6},{"c":1,"r":4,"T":0.95,"S":17.8},{"c":1,"r":4,"T":1.1,"S":13.8},{"c":1,"r":4,"T":1.3,"S":10.8},{"c":1,"r":4,"T":1.5,"S":8.2},{"c":1,"r":4,"T":1.8,"S":5.9},{"c":1,"r":4,"T":2.1,"S":4.6},{"c":1,"r":4,"T":2.5,"S":3.4},{"c":1,"r":4,"T":3,"S":2.5},{"c":1,"r":4,"T":3.5,"S":1.9},{"c":1,"r":4,"T":4.1,"S":1.42},{"c":1,"r":4,"T":4.6,"S":1.22},{"c":1,"r":4,"T":5,"S":1.02},
{"c":1,"r":5,"T":0.1,"S":13.0},{"c":1,"r":5,"T":0.12,"S":14.2},{"c":1,"r":5,"T":0.14,"S":13.8},{"c":1,"r":5,"T":0.16,"S":17.0},{"c":1,"r":5,"T":0.18,"S":16.0},{"c":1,"r":5,"T":0.2,"S":18.2},{"c":1,"r":5,"T":0.23,"S":21.6},{"c":1,"r":5,"T":0.26,"S":19.6},{"c":1,"r":5,"T":0.3,"S":23.6},{"c":1,"r":5,"T":0.34,"S":19.4},{"c":1,"r":5,"T":0.38,"S":22.8},{"c":1,"r":5,"T":0.43,"S":20.4},{"c":1,"r":5,"T":0.48,"S":21.6},{"c":1,"r":5,"T":0.54,"S":23.4},{"c":1,"r":5,"T":0.6,"S":20.4},{"c":1,"r":5,"T":0.68,"S":21.8},{"c":1,"r":5,"T":0.76,"S":19.0},{"c":1,"r":5,"T":0.85,"S":18.4},{"c":1,"r":5,"T":0.95,"S":17.4},{"c":1,"r":5,"T":1.1,"S":14.0},{"c":1,"r":5,"T":1.3,"S":10.9},{"c":1,"r":5,"T":1.5,"S":8.3},{"c":1,"r":5,"T":1.8,"S":6.1},{"c":1,"r":5,"T":2.1,"S":4.6},{"c":1,"r":5,"T":2.5,"S":3.45},{"c":1,"r":5,"T":3,"S":2.55},{"c":1,"r":5,"T":3.5,"S":1.95},{"c":1,"r":5,"T":4.1,"S":1.48},{"c":1,"r":5,"T":4.6,"S":1.2},{"c":1,"r":5,"T":5,"S":1.06},
{"c":4,"r":0,"T":0.1,"S":9.63},{"c":4,"r":0,"T":0.3,"S":20.0},{"c":4,"r":0,"T":0.7,"S":20.0},{"c":4,"r":0,"T":5,"S":0.77}
]
},
"hconcat":[
{
 "width":244,"height":263,
 "data":{"name":"L"},
 "encoding":{
  "x":{"field":"T","type":"quantitative","scale":{"type":"log","domain":[0.1,5],"nice":false},"axis":{"title":"固有周期(s)","titleFontSize":12.5,"titleY":35,"titleBaseline":"middle","labelPadding":9,"values":[0.1,0.2,0.3,0.4,0.5,0.6,0.7,0.8,0.9,1,2,3,4,5],"labelExpr":"indexof([0.4,0.6,0.8,0.9,4], datum.value) >= 0 ? '' : '' + datum.value"}},
  "y":{"field":"S","type":"quantitative","scale":{"type":"log","domain":[1,100],"nice":false},"axis":{"title":"最大応答加速度(m/s²)","titleFontSize":14,"titleX":-47,"titleY":154,"titleAlign":"center","titleBaseline":"middle","labelPadding":12,"values":[1,2,3,4,5,6,7,8,9,10,20,30,40,50,60,70,80,90,100],"labelExpr":"datum.value == 1 || datum.value == 10 || datum.value == 100 ? format(datum.value, '.1f') : ''"}},
  "color":{"field":"c","type":"nominal","scale":{"domain":[1,2,3,4],"range":["#333333","#787878","#959595","#000000"]},"legend":{"orient":"none","legendX":35,"legendY":-6,"title":null,"labelExpr":"datum.value == 1 ? '解析結果(ケース1)' : datum.value == 2 ? '解析結果(ケース2)' : datum.value == 3 ? '解析結果(ケース3)' : 'H29年道示(L2-タイプI)I種地盤'"}},
  "strokeDash":{"field":"c","type":"nominal","scale":{"domain":[1,2,3,4],"range":[[1,0],[2,1.5],[6,2,1.5,2],[1,0]]},"legend":{"orient":"none","legendX":35,"legendY":-6,"title":null,"labelExpr":"datum.value == 1 ? '解析結果(ケース1)' : datum.value == 2 ? '解析結果(ケース2)' : datum.value == 3 ? '解析結果(ケース3)' : 'H29年道示(L2-タイプI)I種地盤'"}},
  "strokeWidth":{"field":"c","type":"nominal","scale":{"type":"ordinal","domain":[1,2,3,4],"range":[1.3,0.9,0.9,2.5]},"legend":{"orient":"none","legendX":35,"legendY":-6,"title":null,"labelExpr":"datum.value == 1 ? '解析結果(ケース1)' : datum.value == 2 ? '解析結果(ケース2)' : datum.value == 3 ? '解析結果(ケース3)' : 'H29年道示(L2-タイプI)I種地盤'"}}
 },
 "layer":[
  {"transform":[{"filter":"datum.c < 4"}],"mark":{"type":"line","clip":true,"strokeJoin":"round"},"encoding":{"detail":{"field":"r"}}},
  {"transform":[{"filter":"datum.c == 4"}],"mark":{"type":"line","clip":true},"encoding":{}}
 ]
},
{
 "width":244,"height":263,
 "data":{"name":"R"},
 "encoding":{
  "x":{"field":"T","type":"quantitative","scale":{"type":"log","domain":[0.1,5],"nice":false},"axis":{"title":"固有周期(s)","titleFontSize":12.5,"titleY":35,"titleBaseline":"middle","labelPadding":9,"values":[0.1,0.2,0.3,0.4,0.5,0.6,0.7,0.8,0.9,1,2,3,4,5],"labelExpr":"indexof([0.4,0.6,0.8,0.9,4], datum.value) >= 0 ? '' : '' + datum.value"}},
  "y":{"field":"S","type":"quantitative","scale":{"type":"log","domain":[1,100],"nice":false},"axis":{"title":"最大応答加速度(m/s²)","titleFontSize":14,"titleX":-47,"titleY":154,"titleAlign":"center","titleBaseline":"middle","labelPadding":12,"values":[1,2,3,4,5,6,7,8,9,10,20,30,40,50,60,70,80,90,100],"labelExpr":"datum.value == 1 || datum.value == 10 || datum.value == 100 ? format(datum.value, '.1f') : ''"}},
  "color":{"field":"c","type":"nominal","scale":{"domain":[1,2,3,4],"range":["#333333","#787878","#959595","#000000"]},"legend":{"orient":"none","legendX":25,"legendY":-6,"title":null,"labelExpr":"datum.value == 1 ? '解析結果(ケース1)' : datum.value == 2 ? '解析結果(ケース2)' : datum.value == 3 ? '解析結果(ケース3)' : 'H29年道示(L2-タイプII)I種地盤'"}},
  "strokeDash":{"field":"c","type":"nominal","scale":{"domain":[1,2,3,4],"range":[[1,0],[2,1.5],[6,2,1.5,2],[1,0]]},"legend":{"orient":"none","legendX":25,"legendY":-6,"title":null,"labelExpr":"datum.value == 1 ? '解析結果(ケース1)' : datum.value == 2 ? '解析結果(ケース2)' : datum.value == 3 ? '解析結果(ケース3)' : 'H29年道示(L2-タイプII)I種地盤'"}},
  "strokeWidth":{"field":"c","type":"nominal","scale":{"type":"ordinal","domain":[1,2,3,4],"range":[1.3,0.9,0.9,2.5]},"legend":{"orient":"none","legendX":25,"legendY":-6,"title":null,"labelExpr":"datum.value == 1 ? '解析結果(ケース1)' : datum.value == 2 ? '解析結果(ケース2)' : datum.value == 3 ? '解析結果(ケース3)' : 'H29年道示(L2-タイプII)I種地盤'"}}
 },
 "layer":[
  {"transform":[{"filter":"datum.c < 4"}],"mark":{"type":"line","clip":true,"strokeJoin":"round"},"encoding":{"detail":{"field":"r"}}},
  {"transform":[{"filter":"datum.c == 4"}],"mark":{"type":"line","clip":true},"encoding":{}}
 ]
}
]
}
